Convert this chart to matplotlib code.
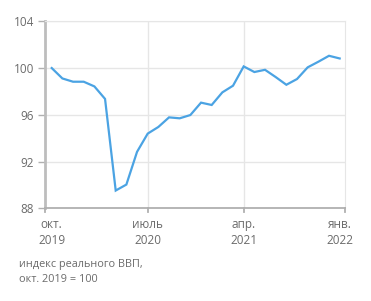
import numpy as np
import matplotlib
matplotlib.use('Agg')
from matplotlib import pyplot as plt

# monthly index, oct 2019 .. jan 2022
months = np.arange(28)
gdp_index = [100.0, 99.11, 98.83, 98.83, 98.43, 97.36, 89.52, 90.03, 92.83, 94.39,
             94.96, 95.78, 95.70, 95.98, 97.04, 96.84, 97.92, 98.49, 100.14, 99.66,
             99.85, 99.23, 98.57, 99.06, 100.06, 100.54, 101.05, 100.82]
tick_pos = [0, 9, 18, 27]
tick_labels = ['окт.\n2019', 'июль\n2020', 'апр.\n2021', 'янв.\n2022']
y_ticks = [88, 92, 96, 100, 104]

plt.rcParams['font.family'] = ['Open Sans', 'DejaVu Sans']
text_col = '#6b6b6b'
grid_col = '#e6e6e6'

fig = plt.figure(figsize=(3.71, 3.01), dpi=100)
ax = fig.add_axes([45 / 371, 1 - 208.3 / 301, 300 / 371, 187 / 301])

ax.plot(months, gdp_index, color='#4ba3e3', lw=1.6, solid_joinstyle='miter', zorder=3)

ax.set_xlim(-0.63, 27.5)
ax.set_ylim(88, 104)
ax.set_yticks(y_ticks)
ax.set_xticks(tick_pos)
ax.set_xticklabels(tick_labels, fontsize=8.5, color=text_col, linespacing=1.25)
ax.set_yticklabels([str(v) for v in y_ticks], fontsize=8.5, color=text_col)

# vertical gridlines between labels
for xv in [9, 18]:
    ax.axvline(xv, color=grid_col, lw=1, zorder=1)
ax.grid(axis='y', color=grid_col, lw=1, zorder=1)
ax.set_axisbelow(True)

ax.spines['left'].set_color('#bdbdbd')
ax.spines['left'].set_linewidth(2)
ax.spines['bottom'].set_color('#b0b0b0')
ax.spines['bottom'].set_linewidth(1.3)
ax.spines['top'].set_color(grid_col)
ax.spines['right'].set_color(grid_col)
ax.tick_params(axis='y', length=5, width=1, color='#b0b0b0', pad=3)
ax.tick_params(axis='x', length=0, pad=7)
# small ticks on the bottom axis at grid positions
for xv in [-0.63, 9, 18, 27.5]:
    ax.plot([xv, xv], [88, 87.65], color='#b0b0b0', lw=1.3, clip_on=False, zorder=4)

fig.text(19 / 371, 1 - 272 / 301, 'индекс реального ВВП,\nокт. 2019 = 100',
         fontsize=7.8, color=text_col, va='center', ha='left', linespacing=1.45)

fig.savefig('out.png', dpi=100)
